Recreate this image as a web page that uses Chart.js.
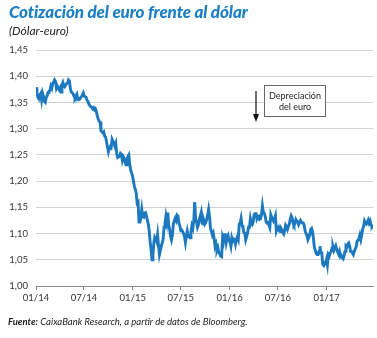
<!DOCTYPE html>
<html>
<head>
<meta charset="utf-8">
<script src="https://cdn.jsdelivr.net/npm/chart.js@4.4.1/dist/chart.umd.min.js"></script>
<style>
html,body{margin:0;padding:0;background:#fff;}
#caja{position:relative;width:377px;height:338px;overflow:hidden;font-family:Lato,"Open Sans",sans-serif;}
#grafico{position:absolute;left:0;top:0;}
#titulo{position:absolute;left:9px;top:1px;font-size:17px;font-weight:900;font-style:italic;color:#1a7fc4;white-space:nowrap;letter-spacing:-0.1px;}
#subtitulo{position:absolute;left:9px;top:23px;font-size:12px;font-style:italic;color:#222;}
#fuente{position:absolute;left:8px;top:316px;font-size:9.5px;font-style:italic;color:#222;white-space:nowrap;}
</style>
</head>
<body>
<div id="caja">
  <canvas id="grafico" width="377" height="338"></canvas>
  <div id="titulo">Cotización del euro frente al dólar</div>
  <div id="subtitulo">(Dólar-euro)</div>
  <div id="fuente"><b>Fuente:</b> CaixaBank Research, a partir de datos de Bloomberg.</div>
</div>
<script>
//! Datos: cotización dólar-euro, un valor cada 3,5 días desde el 01/01/2014
const eur2014=[
1.379,1.366,1.360,1.357,1.364,1.367,1.355,1.368,
1.362,1.352,1.350,1.359,1.363,1.369,1.371,1.373,
1.381,1.377,1.386,1.389,1.393,1.390,1.377,1.381,
1.377,1.374,1.378,1.370,1.383,1.388,1.382,1.380,
1.383,1.386,1.387,1.393,1.391,1.377,1.370,1.369,
1.366,1.362,1.359,1.363,1.366,1.356,1.355,1.356,
1.359,1.361,1.364,1.368,1.362,1.361,1.360,1.354,
1.352,1.347,1.344,1.342,1.341,1.338,1.340,1.336,
1.338,1.333,1.325,1.319,1.314,1.313,1.296,1.294,
1.292,1.294,1.286,1.284,1.275,1.265,1.256,1.263,
1.266,1.264,1.280,1.276,1.271,1.267,1.272,1.252,
1.245,1.246,1.248,1.253,1.251,1.240,1.247,1.244,
1.236,1.231,1.240,1.247,1.250,1.232,1.221,1.216,
];
const eur2015=[
1.210,1.200,1.190,1.184,1.177,1.158,1.160,1.122,
1.135,1.132,1.146,1.132,1.131,1.139,1.140,1.134,
1.125,1.118,1.105,1.084,1.070,1.050,1.058,1.083,
1.093,1.090,1.085,1.098,1.078,1.060,1.068,1.076,
1.082,1.089,1.112,1.120,1.133,1.122,1.140,1.116,
1.108,1.095,1.088,1.097,1.118,1.124,1.129,1.125,
1.135,1.133,1.120,1.115,1.106,1.107,1.104,1.100,
1.094,1.083,1.096,1.105,1.095,1.096,1.092,1.103,
1.115,1.110,1.124,1.160,1.128,1.122,1.112,1.117,
1.127,1.133,1.140,1.120,1.118,1.124,1.118,1.121,
1.128,1.136,1.146,1.133,1.110,1.104,1.097,1.101,
1.090,1.075,1.080,1.068,1.073,1.064,1.061,1.057,
1.056,1.092,1.085,1.098,1.098,1.083,1.092,1.096,
];
const eur2016=[
1.087,1.084,1.076,1.092,1.086,1.090,1.089,1.080,
1.089,1.094,1.089,1.118,1.120,1.129,1.116,1.112,
1.102,1.101,1.088,1.094,1.101,1.112,1.112,1.128,
1.119,1.117,1.122,1.136,1.138,1.140,1.128,1.132,
1.133,1.127,1.128,1.136,1.153,1.141,1.139,1.133,
1.122,1.120,1.121,1.116,1.112,1.136,1.131,1.128,
1.124,1.128,1.134,1.105,1.110,1.112,1.106,1.104,
1.110,1.107,1.102,1.099,1.106,1.116,1.113,1.108,
1.114,1.118,1.128,1.134,1.130,1.120,1.116,1.119,
1.127,1.124,1.123,1.117,1.121,1.125,1.122,1.120,
1.120,1.116,1.105,1.100,1.096,1.088,1.092,1.097,
1.108,1.110,1.104,1.090,1.073,1.068,1.062,1.060,
1.060,1.066,1.076,1.063,1.063,1.041,1.039,1.044,
];
const eur2017=[
1.043,1.050,1.040,1.060,1.057,1.063,1.065,1.072,
1.075,1.068,1.073,1.077,1.070,1.065,1.061,1.066,
1.056,1.058,1.054,1.052,1.058,1.066,1.076,1.074,
1.080,1.082,1.076,1.066,1.066,1.063,1.060,1.066,
1.071,1.074,1.085,1.088,1.090,1.097,1.089,1.098,
1.108,1.114,1.124,1.120,1.118,1.122,1.126,1.120,
1.124,1.116,1.114,1.117,
];
const diasEntrePuntos=3.5;

// Ejes
const diasEtiqueta=[0,181,365,546,730,912,1096];
const etiquetasX=["01/14","07/14","01/15","07/15","01/16","07/16","01/17"];
const diaFinal=1271;
const yMin=1.00, yMax=1.45, yPaso=0.05;

const cotizacion=[...eur2014,...eur2015,...eur2016,...eur2017];
const puntos=cotizacion.map((v,i)=>({x:i*diasEntrePuntos,y:v}));

//! Recuadro "Depreciación del euro" con flecha
const anotacion={
  id:"anotacion",
  afterDraw(chart){
    const c=chart.ctx;
    c.save();
    c.fillStyle="#fff";
    c.fillRect(264,85,62,31);
    c.strokeStyle="#666";
    c.lineWidth=1;
    c.strokeRect(264.5,85.5,61,31);
    c.fillStyle="#222";
    c.font="9px Lato, 'Open Sans', sans-serif";
    c.textAlign="center";
    c.textBaseline="middle";
    c.fillText("Depreciación",295,96);
    c.fillText("del euro",295,107);
    // flecha
    c.strokeStyle="#111";
    c.lineWidth=1.2;
    c.beginPath();
    c.moveTo(256,91);
    c.lineTo(256,116);
    c.stroke();
    c.fillStyle="#111";
    c.beginPath();
    c.moveTo(253,114);
    c.lineTo(259,114);
    c.lineTo(256,122);
    c.closePath();
    c.fill();
    c.restore();
  }
};

Chart.defaults.font.family="Lato, 'Open Sans', sans-serif";
Chart.defaults.font.size=9.5;
Chart.defaults.color="#333";

const ctx=document.querySelector("#grafico").getContext("2d");
const grafico=new Chart(ctx,{
  type:"line",
  data:{
    datasets:[{
      label:"Dólar-euro",
      data:puntos,
      borderColor:"#1c79bf",
      borderWidth:2.9,
      pointRadius:0,
      tension:0,
      fill:false,
    }],
  },
  options:{
    responsive:false,
    animation:false,
    devicePixelRatio:1,
    layout:{padding:{left:0,right:4,top:50,bottom:0}},
    plugins:{legend:{display:false},tooltip:{enabled:false}},
    scales:{
      x:{
        type:"linear",
        min:0,
        max:diaFinal,
        afterFit(s){s.height=52;},
        afterBuildTicks(s){s.ticks=diasEtiqueta.map(v=>({value:v}));},
        ticks:{
          autoSkip:false,
          maxRotation:0,
          padding:2,
          callback:(v)=>etiquetasX[diasEtiqueta.indexOf(v)],
        },
        grid:{drawOnChartArea:false,drawTicks:true,tickLength:4,color:"#8a8a8a"},
        border:{display:true,color:"#8a8a8a",width:1},
      },
      y:{
        min:yMin,
        max:yMax,
        afterFit(s){s.width=36;},
        ticks:{
          stepSize:yPaso,
          padding:8,
          callback:(v)=>v.toFixed(2).replace(".",","),
        },
        grid:{
          drawTicks:false,
          color:(c)=>c.tick && Math.abs(c.tick.value-yMin)<1e-6 ? "rgba(0,0,0,0)" : "#d2d2d2",
        },
        border:{display:false},
      },
    },
  },
  plugins:[anotacion],
});
</script>
</body>
</html>
